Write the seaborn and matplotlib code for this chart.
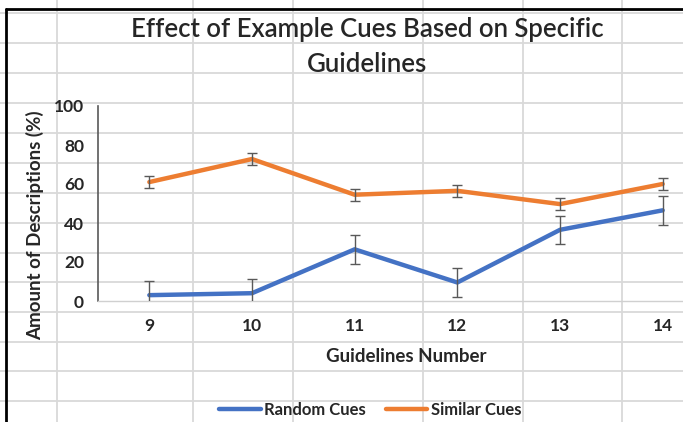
import numpy as np
import pandas as pd
import matplotlib
matplotlib.use("Agg")
import matplotlib.pyplot as plt
import seaborn as sns

# Chart data
guidelines = [9, 10, 11, 12, 13, 14]
random_cues = [3, 4, 26.5, 9.5, 36.5, 46.5]
random_err = [7.3, 7.3, 7.3, 7.3, 7.3, 7.3]
similar_cues = [61, 72.8, 54.5, 56.5, 49.7, 60]
similar_err = [3, 3, 3, 3, 3, 3]
y_ticks = [0, 20, 40, 60, 80, 100]

df = pd.DataFrame({
    "Guideline": guidelines * 2,
    "Value": random_cues + similar_cues,
    "Series": ["Random Cues"] * 6 + ["Similar Cues"] * 6,
})

sns.set_theme(style="white")
plt.rcParams["font.family"] = ["Lato", "DejaVu Sans"]

W, H = 683, 422
fig = plt.figure(figsize=(W / 100, H / 100), dpi=100)

# spreadsheet cells showing behind the transparent chart
bg = fig.add_axes([0, 0, 1, 1], zorder=-5)
bg.set_xlim(0, W)
bg.set_ylim(H, 0)
bg.axis("off")
for x in [57, 193, 293, 423, 523, 622]:
    bg.axvline(x, color="#d9d9d9", lw=1.3)
for y in [13, 43, 73, 103, 133, 163, 193, 223, 253, 282, 312, 342, 371, 401]:
    bg.axhline(y, color="#d9d9d9", lw=1.3)
bg.plot([6, W], [9, 9], color="black", lw=2)
bg.plot([6, 6], [9, H], color="black", lw=2)

ax = fig.add_axes([98 / W, 1 - 301 / H, 616 / W, 195 / H])
ax.patch.set_alpha(0)

palette = {"Random Cues": "#4472C4", "Similar Cues": "#ED7D31"}
sns.lineplot(data=df, x="Guideline", y="Value", hue="Series", palette=palette,
             linewidth=3.2, ax=ax, legend=False, zorder=3)
ax.errorbar(guidelines, random_cues, yerr=random_err, fmt="none",
            ecolor="#595959", elinewidth=1, capsize=3.5, zorder=4)
ax.errorbar(guidelines, similar_cues, yerr=similar_err, fmt="none",
            ecolor="#595959", elinewidth=1, capsize=3.5, zorder=4)

ax.set_xlim(8.5, 14.5)
ax.set_ylim(0, 100)
ax.set_xticks(guidelines)
ax.set_yticks(y_ticks)
ax.tick_params(axis="both", length=0, labelsize=12.5)
ax.tick_params(axis="y", pad=10)
ax.tick_params(axis="x", pad=12)
for lab in ax.get_xticklabels() + ax.get_yticklabels():
    lab.set_fontweight("bold")
    lab.set_color("#262626")

for s in ["top", "right"]:
    ax.spines[s].set_visible(False)
ax.spines["left"].set_color("#595959")
ax.spines["left"].set_linewidth(1.2)
ax.spines["bottom"].set_color("#d0d0d0")
ax.spines["bottom"].set_linewidth(1)

ax.set_xlabel("Guidelines Number", fontsize=13.5, fontweight="bold",
              color="#262626", labelpad=10)
ax.set_ylabel("")
fig.text(35 / W, 1 - 225 / H, "Amount of Descriptions (%)", rotation=90,
         ha="center", va="center", fontsize=13.5, fontweight="bold", color="#262626")

fig.text(367 / W, 1 - 47 / H, "Effect of Example Cues Based on Specific\nGuidelines",
         ha="center", va="center", fontsize=18.5, fontweight="semibold",
         color="#262626", linespacing=1.55)

handles = [plt.Line2D([], [], color=palette[k], lw=3.2) for k in palette]
fig.legend(handles, list(palette), loc="center", ncol=2, frameon=False,
           bbox_to_anchor=(370 / W, 1 - 410 / H), handlelength=2.5,
           columnspacing=1.2, handletextpad=0.2,
           prop={"size": 12, "weight": "bold"})

fig.savefig("out.png", dpi=100)
